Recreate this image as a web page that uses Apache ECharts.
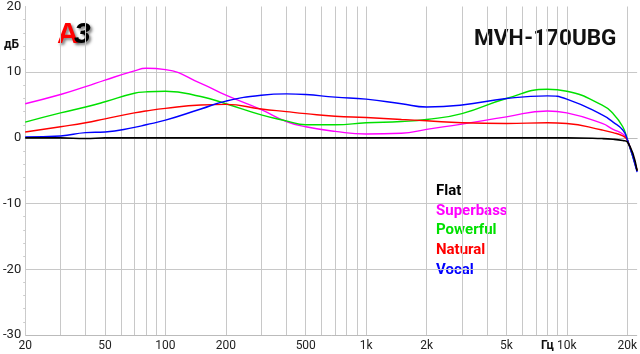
<!DOCTYPE html>
<html>
<head>
<meta charset="utf-8">
<script src="https://cdn.jsdelivr.net/npm/echarts@6/dist/echarts.min.js"></script>
<style>
  html, body { margin: 0; padding: 0; background: #fff; }
  #chart { width: 640px; height: 354px; }
</style>
</head>
<body>
<div id="chart"></div>
<script>
// АЧХ пресетов эквалайзера MVH-170UBG, частота лог. шкала 20 Гц – 20 кГц
const FREQS    = [20, 30, 40, 50, 70, 80, 100, 150, 200, 300, 400, 500, 700, 1000, 1500, 2000, 3000, 5000, 8000, 10000, 15000, 17000, 19000, 20000, 22400];
const FLAT      = [0, 0, -0.1, 0, 0, 0, 0, 0, 0, 0, 0, 0, 0, 0, 0, 0, 0, 0, 0, 0, -0.1, -0.2, -0.4, -0.6, -5.0];
const SUPERBASS = [5.2, 6.6, 7.8, 8.8, 10.2, 10.6, 10.4, 8.3, 6.5, 4.3, 2.5, 1.7, 1.0, 0.6, 0.7, 1.3, 2.1, 3.2, 4.1, 3.8, 2.2, 1.3, 0.6, -0.2, -5.0];
const POWERFUL  = [2.4, 3.8, 4.7, 5.5, 6.8, 7.0, 7.1, 6.3, 5.2, 3.5, 2.6, 2.0, 2.0, 2.3, 2.5, 2.8, 3.7, 6.0, 7.4, 7.1, 5.0, 3.7, 1.7, -0.2, -5.0];
const NATURAL   = [0.9, 1.7, 2.3, 2.9, 3.8, 4.1, 4.5, 5.0, 5.1, 4.4, 4.0, 3.7, 3.3, 3.1, 2.8, 2.6, 2.3, 2.2, 2.3, 2.2, 1.2, 0.8, 0.3, -0.3, -5.0];
const VOCAL     = [0.15, 0.3, 0.8, 0.9, 1.6, 2.0, 2.7, 4.4, 5.6, 6.5, 6.7, 6.6, 6.2, 5.9, 5.2, 4.7, 5.0, 6.0, 6.4, 5.9, 3.5, 2.4, 1.2, -0.2, -5.2];

const GRID_FREQS  = [20, 30, 40, 50, 60, 70, 80, 90, 100, 200, 300, 400, 500, 600, 700, 800, 900,
                     1000, 2000, 3000, 4000, 5000, 6000, 7000, 8000, 9000, 10000, 20000];
const LABEL_FREQS = [20, 50, 100, 200, 500, 1000, 2000, 5000, 10000, 20000];

const SERIES = [
  { name: "Flat",      color: "#000000", data: FLAT },
  { name: "Superbass", color: "#ff00ff", data: SUPERBASS },
  { name: "Powerful",  color: "#00e000", data: POWERFUL },
  { name: "Natural",   color: "#ff0000", data: NATURAL },
  { name: "Vocal",     color: "#0000ff", data: VOCAL },
];

const lg = f => Math.log10(f);
const fmtHz = v => {
  const f = Math.round(Math.pow(10, v));
  return f >= 1000 ? (f / 1000) + "k" : String(f);
};

const chart = echarts.init(document.getElementById("chart"), null, { renderer: "canvas" });

const legendTexts = SERIES.map((s, i) => ({
  type: "text", left: 436, top: 184 + i * 19.6,
  style: { text: s.name, fill: s.color, font: "bold 15px Roboto, sans-serif" },
}));

const shadow = { textShadowColor: "rgba(0,0,0,0.5)", textShadowBlur: 3, textShadowOffsetX: 2, textShadowOffsetY: 2 };

chart.setOption({
  animation: false,
  backgroundColor: "#fff",
  grid: { left: 23, right: 0, top: 4, bottom: 19 },
  xAxis: {
    type: "value", min: lg(20), max: lg(22400),
    axisLine: { show: true, lineStyle: { color: "#bbb", width: 1 } },
    axisTick: { show: false, customValues: GRID_FREQS.map(lg) },
    splitLine: { show: true, lineStyle: { color: "#c8c8c8", width: 1 } },
    axisLabel: {
      customValues: LABEL_FREQS.map(lg), formatter: fmtHz,
      color: "#222", fontSize: 12, fontFamily: "Roboto, sans-serif", margin: 5,
      showMinLabel: true, showMaxLabel: true,
    },
  },
  yAxis: {
    type: "value", min: -30, max: 20, interval: 10,
    axisLine: { show: true, lineStyle: { color: "#ccc", type: "dotted" } },
    axisTick: { show: false },
    minorTick: { show: true, splitNumber: 5, length: 2, lineStyle: { color: "#ccc" } },
    splitLine: { show: true, lineStyle: { color: ["#bbb", "#c8c8c8", "#c8c8c8", "#c8c8c8", "#c8c8c8", "rgba(0,0,0,0)"], width: 1 } },
    axisLabel: { color: "#222", fontSize: 13, fontFamily: "Roboto, sans-serif", margin: 4 },
  },
  series: SERIES.slice(1).concat(SERIES.slice(0, 1)).map(s => ({
    name: s.name, type: "line", smooth: 0.5, symbol: "none",
    data: FREQS.map((f, i) => [lg(f), s.data[i]]),
    lineStyle: { color: s.color, width: s.name === "Flat" ? 1.6 : 1.4 },
    itemStyle: { color: s.color },
    z: s.name === "Flat" ? 3 : 2,
  })),
  graphic: [
    { type: "text", left: 4, top: 39,
      style: { text: "дБ", fill: "#111", font: "bold 12px Roboto, sans-serif" } },
    { type: "text", left: 541, top: 340,
      style: { text: "Гц", fill: "#111", font: "bold 12px Roboto, sans-serif" } },
    { type: "text", left: 474, top: 28,
      style: { text: "MVH-170UBG", fill: "#111", font: "bold 22.5px Roboto, sans-serif" } },
    { type: "text", left: 57, top: 20,
      style: { text: "А", fill: "#ff0000", font: "bold 30px 'Liberation Sans', Arial, sans-serif", ...shadow } },
    { type: "text", left: 74, top: 20,
      style: { text: "3", fill: "#000", font: "italic bold 30px 'Liberation Sans', Arial, sans-serif", ...shadow } },
    ...legendTexts,
  ],
});
</script>
</body>
</html>
